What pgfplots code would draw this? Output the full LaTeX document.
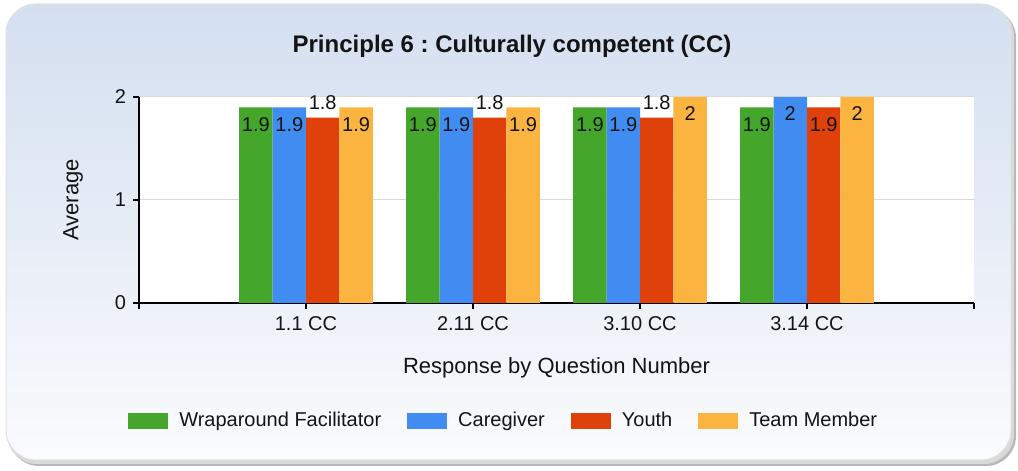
\documentclass[border=0pt]{standalone}
\usepackage{pgfplots}
\pgfplotsset{compat=1.18}
\usepackage{fontspec}
\setmainfont{Liberation Sans}
\frenchspacing
\definecolor{cgreen}{RGB}{68,166,42}
\definecolor{cblue}{RGB}{65,140,240}
\definecolor{cred}{RGB}{224,64,10}
\definecolor{corange}{RGB}{252,180,65}
\definecolor{paneltop}{RGB}{212,223,240}
\definecolor{panelbot}{RGB}{250,251,253}
\definecolor{txt}{RGB}{20,20,20}
\begin{document}
\begin{tikzpicture}[x=0.5pt,y=0.5pt]
\useasboundingbox (0,0) rectangle (1018,471);
% shadow and panel
\fill[black!28,rounded corners=15pt] (9,5) rectangle (1016,463);
\fill[black!15,rounded corners=15pt] (7,7) rectangle (1014,465);
\shade[top color=paneltop,bottom color=panelbot,rounded corners=15pt,draw=black!12,line width=0.5pt] (6,11) rectangle (1011,467);
\node[font=\fontsize{12}{14}\selectfont\bfseries,text=txt] at (512,425) {Principle 6 : Culturally competent (CC)};
\begin{axis}[
  at={(69.5pt,84pt)}, anchor=south west,
  scale only axis, width=417.5pt, height=103pt,
  xmin=0, xmax=5, ymin=0, ymax=2,
  axis lines=left, axis line style={-,black,line width=0.8pt},
  axis background/.style={fill=white},
  xtick={0,1,2,3,4,5},
  xticklabels={,1.1 CC,2.11 CC,3.10 CC,3.14 CC,},
  ytick={0,1,2},
  tick align=outside, major tick length=3pt,
  tick style={black,line width=0.8pt},
  ymajorgrids, major grid style={black!15,line width=0.5pt},
  /pgf/number format/assume math mode=true,
  ticklabel style={font=\fontsize{10}{12}\selectfont,text=txt},
  xlabel={Response by Question Number},
  ylabel={Average},
  label style={font=\fontsize{11}{13}\selectfont,text=txt},
  xlabel style={at={(axis description cs:0.5,-0.3155)},anchor=center},
  ylabel style={at={(axis description cs:-0.079,0.5)},anchor=center},
  ybar=0pt, bar width=0.2,
  visualization depends on={rawy \as \rawy},
  nodes near coords,
  every node near coord/.append style={font=\fontsize{10}{12}\selectfont,text=txt,anchor=base,inner sep=0pt,yshift={4pt-16pt*(\rawy>1.85)}},
  legend columns=4,
  legend image code/.code={\fill[#1] (0pt,-4pt) rectangle (20pt,4pt);},
  legend style={at={(axis description cs:0.438,-0.573)},anchor=center,draw=none,fill=none,
    font=\fontsize{10}{12}\selectfont,text=txt,
    /tikz/every odd column/.append style={column sep=3.5pt},
    /tikz/every even column/.append style={column sep=11pt}},
]
\addplot[fill=cgreen,draw=none] coordinates {(1,1.9) (2,1.9) (3,1.9) (4,1.9)};
\addplot[fill=cblue,draw=none] coordinates {(1,1.9) (2,1.9) (3,1.9) (4,2)};
\addplot[fill=cred,draw=none] coordinates {(1,1.8) (2,1.8) (3,1.8) (4,1.9)};
\addplot[fill=corange,draw=none] coordinates {(1,1.9) (2,1.9) (3,2) (4,2)};
\legend{Wraparound Facilitator,Caregiver,Youth,Team Member}
\end{axis}
\end{tikzpicture}
\end{document}
